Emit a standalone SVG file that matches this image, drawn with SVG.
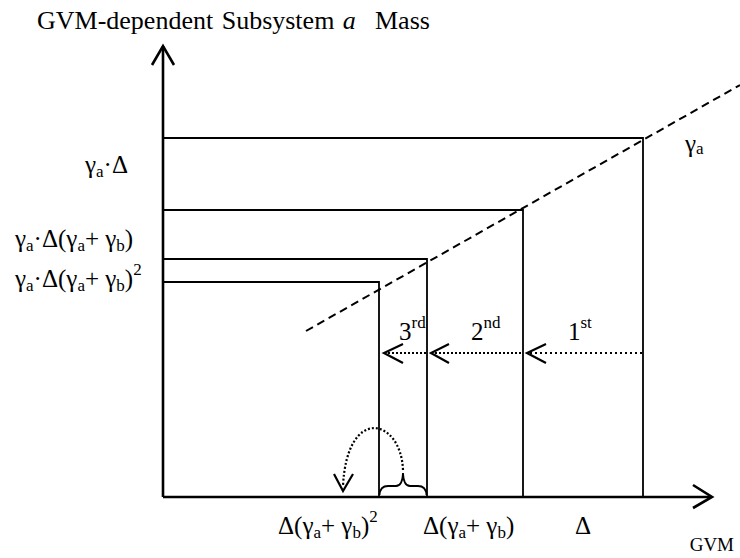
<svg xmlns="http://www.w3.org/2000/svg" width="740" height="558" viewBox="0 0 740 558">
<defs>
<style>
text{font-family:'Liberation Serif','Times New Roman',serif;fill:#000}
.t{font-size:25px}
.sm{font-size:17px}
.ax{stroke:#000;stroke-width:2.6;fill:none}
.ln{stroke:#000;stroke-width:1.8;fill:none}
.dash{stroke:#000;stroke-width:2;stroke-dasharray:8 5;fill:none}
.dot{stroke:#000;stroke-width:2.2;stroke-dasharray:2 2;fill:none}
.dot2{stroke:#000;stroke-width:1.8;stroke-dasharray:2 3;fill:none}
.chev{stroke:#000;stroke-width:2.2;fill:none}
</style>
</defs>
<rect width="740" height="558" fill="#fff"/>
<g id="title" font-family="Liberation Serif, serif">
<text y="29" font-size="26" word-spacing="2"><tspan x="37">GVM-dependent Subsystem </tspan><tspan font-style="italic">a</tspan><tspan x="375">Mass</tspan></text>
</g>
<g id="axes">
<line class="ax" x1="163" y1="46" x2="163" y2="497"/>
<polyline class="ax" points="152,65 163,46 174,65"/>
<line class="ax" x1="163" y1="497" x2="711" y2="497"/>
<polyline class="ax" points="693,485 712,497 693,508"/>
</g>
<g id="steps">
<polyline class="ln" points="163,138 643,138 643,497"/>
<polyline class="ln" points="163,210 523,210 523,497"/>
<polyline class="ln" points="163,259 427,259 427,497"/>
<polyline class="ln" points="163,282 379,282 379,497"/>
</g>
<g id="gamma-line" font-family="Liberation Serif, serif">
<line class="dash" x1="306" y1="331" x2="740" y2="85"/>
<text class="t" x="685" y="152">γ<tspan class="sm" dy="2">a</tspan></text>
</g>
<g id="connectors">
<line class="dot2" x1="642" y1="353" x2="530" y2="353"/>
<polyline class="chev" points="546,344 527,353 546,363"/>
<line class="dot" x1="521" y1="353" x2="434" y2="353"/>
<polyline class="chev" points="449,344 431,353 449,363"/>
<line class="dot" x1="426" y1="353" x2="387" y2="353"/>
<polyline class="chev" points="403,344 384,353 403,363"/>
<path class="dot" d="M403,470 C401,418 347,405 343,486"/>
<polyline class="chev" points="334,474 343,491 353,474"/>
<path class="ln" d="M379.5,495 Q380,486 388,486 L396,486 Q402.5,486 403,473 Q403.5,486 410,486 L418,486 Q426,486 426.5,495"/>
</g>
<g id="step-labels" font-family="Liberation Serif, serif">
<text class="t" x="568" y="340">1<tspan class="sm" dy="-12">st</tspan></text>
<text class="t" x="471" y="340">2<tspan class="sm" dy="-12">nd</tspan></text>
<text class="t" x="399" y="340">3<tspan class="sm" dy="-12">rd</tspan></text>
</g>
<g id="y-labels" font-family="Liberation Serif, serif">
<text class="t" x="85" y="173">γ<tspan class="sm" dy="4">a</tspan><tspan dy="-4">·Δ</tspan></text>
<text class="t" x="15" y="247">γ<tspan class="sm" dy="4">a</tspan><tspan dy="-4">·Δ(γ</tspan><tspan class="sm" dy="4">a</tspan><tspan dy="-4">+ γ</tspan><tspan class="sm" dy="4">b</tspan><tspan dy="-4">)</tspan></text>
<text class="t" x="15" y="287">γ<tspan class="sm" dy="4">a</tspan><tspan dy="-4">·Δ(γ</tspan><tspan class="sm" dy="4">a</tspan><tspan dy="-4">+ γ</tspan><tspan class="sm" dy="4">b</tspan><tspan dy="-4">)</tspan><tspan class="sm" dy="-12">2</tspan></text>
</g>
<g id="x-labels" font-family="Liberation Serif, serif">
<text class="t" x="278" y="534">Δ(γ<tspan class="sm" dy="4">a</tspan><tspan dy="-4">+ γ</tspan><tspan class="sm" dy="4">b</tspan><tspan dy="-4">)</tspan><tspan class="sm" dy="-12">2</tspan></text>
<text class="t" x="423" y="534">Δ(γ<tspan class="sm" dy="4">a</tspan><tspan dy="-4">+ γ</tspan><tspan class="sm" dy="4">b</tspan><tspan dy="-4">)</tspan></text>
<text class="t" x="575" y="534">Δ</text>
<text x="734" y="551" font-size="19" text-anchor="end">GVM</text>
</g>
</svg>
